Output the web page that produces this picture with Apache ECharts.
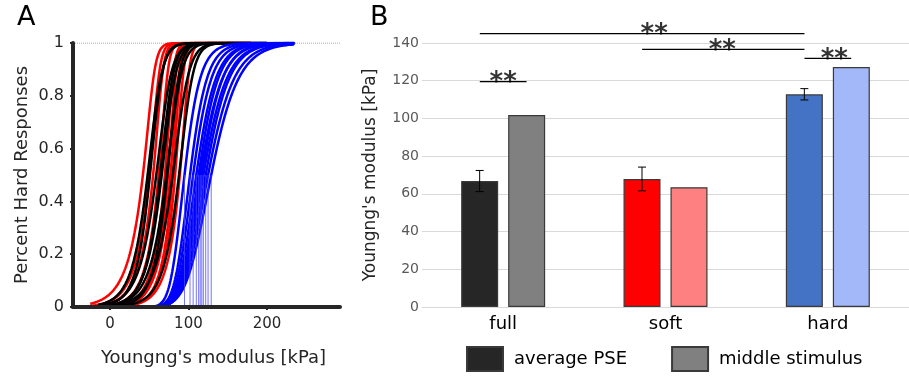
<!DOCTYPE html>
<html>
<head>
<meta charset="utf-8">
<script src="https://cdn.jsdelivr.net/npm/echarts@6/dist/echarts.min.js"></script>
<style>
  html, body { margin: 0; padding: 0; background: #fff; }
  #main { width: 909px; height: 377px; }
</style>
</head>
<body>
<div id="main"></div>
<script>
var chart = echarts.init(document.getElementById('main'));
var FONT = 'DejaVu Sans';

// ---- panel A: fitted psychometric curves, one per subject (PSE in kPa, spread) ----
var fullPSE = [48, 51, 59, 64, 66, 72, 73, 80, 88];
var fullSlope = [7.5, 6.5, 8, 7, 7.5, 8, 6.5, 8.5, 7.5];
var softPSE = [42, 50, 55, 62, 70, 74, 77, 80, 83, 89];
var softSlope = [4.5, 4.0, 3.8, 3.6, 3.4, 3.2, 3.5, 3.1, 3.3, 3.6];
var hardPSE = [95, 102, 106, 110, 113, 115, 117, 119, 122, 125, 129];
var hardSlope = [12, 13, 14, 15, 15, 17, 16, 18, 18, 20, 21];
var groupSkew = { full: 0.5, soft: 0.25, hard: 3 };
var groupRange = { full: [-15, 200], soft: [-25, 180], hard: [40, 235] };
var xTicksA = [0, 100, 200];

// ---- panel B: bar chart ----
var categories = ['full', 'soft', 'hard'];
var avgPSE = [66.8, 67.9, 112.8];
var avgErr = [5.6, 6.3, 3.0];
var middleStim = [101.8, 63.5, 127.3];
var avgColors = ['#262626', '#ff0000', '#4472c4'];
var midColors = ['#808080', '#ff8080', '#a2b8f8'];
// significance brackets: [x1, x2, y] with x in category units, then star position
var sigLines = [
  [-0.144, 0.144, 119.5],
  [-0.144, 1.856, 145],
  [0.856, 1.856, 136.6],
  [1.856, 2.144, 131.8]
];
var sigStars = [[0.0, 119.5], [0.93, 145], [1.35, 136.6], [2.04, 131.8]];

function curve(pse, s, a, range) {
    var m = pse + s * Math.log(Math.pow(2, 1 / a) - 1);
    var pts = [];
    for (var x = range[0]; x <= range[1]; x += 0.5) {
        pts.push([x, Math.pow(1 + Math.exp(-(x - m) / s), -a)]);
    }
    return pts;
}

var series = [];
// reference dotted line at 1
series.push({
    type: 'line', xAxisIndex: 0, yAxisIndex: 0, silent: true, showSymbol: false,
    data: [[-47, 1], [293, 1]],
    lineStyle: { color: '#9a80c0', width: 1, type: 'dotted' }, z: 1
});
function addGroup(pses, slopes, key, color) {
    pses.forEach(function (p, i) {
        series.push({
            type: 'line', xAxisIndex: 0, yAxisIndex: 0, showSymbol: false, silent: true,
            data: curve(p, slopes[i], groupSkew[key], groupRange[key]),
            lineStyle: { color: color, width: 2.5 }, z: 2
        });
    });
}
addGroup(softPSE, softSlope, 'soft', '#ff0000');
addGroup(fullPSE, fullSlope, 'full', '#000000');
addGroup(hardPSE, hardSlope, 'hard', '#0000ff');
// PSE drop lines for hard curves
hardPSE.forEach(function (p) {
    series.push({
        type: 'line', xAxisIndex: 0, yAxisIndex: 0, showSymbol: false, silent: true,
        data: [[p, 0], [p, 0.5]],
        lineStyle: { color: 'rgba(70,70,255,0.75)', width: 1 }, z: 3
    });
});

// bars
series.push({
    name: 'average PSE', type: 'bar', xAxisIndex: 1, yAxisIndex: 1,
    barWidth: 37, barGap: '27%',
    itemStyle: { color: '#262626', borderColor: '#3a3a3a', borderWidth: 1.2 },
    data: avgPSE.map(function (v, i) { return { value: v, itemStyle: { color: avgColors[i] } }; })
});
series.push({
    name: 'middle stimulus', type: 'bar', xAxisIndex: 1, yAxisIndex: 1,
    barWidth: 37, barGap: '27%',
    itemStyle: { color: '#808080', borderColor: '#3a3a3a', borderWidth: 1.2 },
    data: middleStim.map(function (v, i) { return { value: v, itemStyle: { color: midColors[i] } }; })
});
// error bars on average PSE
series.push({
    type: 'custom', xAxisIndex: 1, yAxisIndex: 1, silent: true, z: 5,
    data: avgPSE.map(function (v, i) { return [i, v - avgErr[i], v + avgErr[i]]; }),
    renderItem: function (params, api) {
        var lo = api.coord([api.value(0), api.value(1)]);
        var hi = api.coord([api.value(0), api.value(2)]);
        var x = lo[0] - 23.5, c = 4;
        var st = { stroke: '#000', lineWidth: 1 };
        return { type: 'group', children: [
            { type: 'line', shape: { x1: x, y1: lo[1], x2: x, y2: hi[1] }, style: st },
            { type: 'line', shape: { x1: x - c, y1: lo[1], x2: x + c, y2: lo[1] }, style: st },
            { type: 'line', shape: { x1: x - c, y1: hi[1], x2: x + c, y2: hi[1] }, style: st }
        ] };
    }
});
// significance brackets
sigLines.forEach(function (l) {
    series.push({
        type: 'line', xAxisIndex: 2, yAxisIndex: 1, showSymbol: false, silent: true, clip: false,
        data: [[l[0], l[2]], [l[1], l[2]]],
        lineStyle: { color: '#000', width: 1.3 }, z: 6
    });
});
series.push({
    type: 'scatter', xAxisIndex: 2, yAxisIndex: 1, silent: true, clip: false, symbolSize: 1,
    itemStyle: { color: 'rgba(0,0,0,0)' },
    data: sigStars,
    label: {
        show: true, position: 'inside', formatter: '**', offset: [0, 2],
        fontFamily: FONT, fontSize: 26, fontWeight: 'bold', color: '#000'
    }, z: 6
});

var option = {
    animation: false,
    textStyle: { fontFamily: FONT },
    grid: [
        { left: 73, top: 43, width: 267, height: 264 },
        { left: 422, top: 43, right: -3, height: 264 }
    ],
    xAxis: [
        {
            type: 'value', gridIndex: 0, min: -47, max: 293, z: 10,
            name: "Youngng's modulus [kPa]", nameLocation: 'middle', nameGap: 42,
            nameTextStyle: { fontFamily: FONT, fontSize: 18, color: '#262626', padding: [0, 0, 0, 14] },
            splitLine: { show: false },
            axisLine: { onZero: false, lineStyle: { color: '#262626', width: 4 } },
            axisTick: { show: true, length: 3, lineStyle: { color: '#262626', width: 2 },
                customValues: xTicksA },
            axisLabel: { fontFamily: FONT, fontSize: 15, color: '#262626', margin: 10,
                customValues: xTicksA }
        },
        {
            type: 'category', gridIndex: 1, data: categories,
            axisLine: { lineStyle: { color: '#d9d9d9', width: 1 } },
            axisTick: { show: false },
            axisLabel: { fontFamily: FONT, fontSize: 18, color: '#000', margin: 8 }
        },
        {
            type: 'value', gridIndex: 1, min: -0.5, max: 2.5, show: false
        }
    ],
    yAxis: [
        {
            type: 'value', gridIndex: 0, min: 0, max: 1, interval: 0.2, z: 10,
            name: 'Percent Hard Responses', nameLocation: 'middle', nameGap: 42,
            nameTextStyle: { fontFamily: FONT, fontSize: 18, color: '#262626' },
            splitLine: { show: false },
            axisLine: { show: true, onZero: false, lineStyle: { color: '#262626', width: 4 } },
            axisTick: { show: true, length: 3, lineStyle: { color: '#262626', width: 2 } },
            axisLabel: { fontFamily: FONT, fontSize: 16, color: '#262626', margin: 9 }
        },
        {
            type: 'value', gridIndex: 1, min: 0, max: 140, interval: 20,
            name: "Youngng's modulus [kPa]", nameLocation: 'middle', nameGap: 43,
            nameTextStyle: { fontFamily: FONT, fontSize: 17, color: '#262626' },
            splitLine: { lineStyle: { color: '#d9d9d9', width: 1 } },
            axisLine: { show: false },
            axisTick: { show: false },
            axisLabel: { fontFamily: FONT, fontSize: 14, color: '#595959', margin: 3 }
        }
    ],
    legend: {
        data: ['average PSE', 'middle stimulus'],
        left: 466, top: 346, padding: 0, itemWidth: 36, itemHeight: 24, itemGap: 44, icon: 'rect',
        textStyle: { fontFamily: FONT, fontSize: 18, color: '#000', padding: [0, 0, 0, 6] }
    },
    graphic: [
        { type: 'text', left: 17, top: 4, style: { text: 'A', font: '27px DejaVu Sans', fill: '#000' } },
        { type: 'text', left: 370, top: 4, style: { text: 'B', font: '27px DejaVu Sans', fill: '#000' } }
    ],
    series: series
};
chart.setOption(option);
</script>
</body>
</html>
